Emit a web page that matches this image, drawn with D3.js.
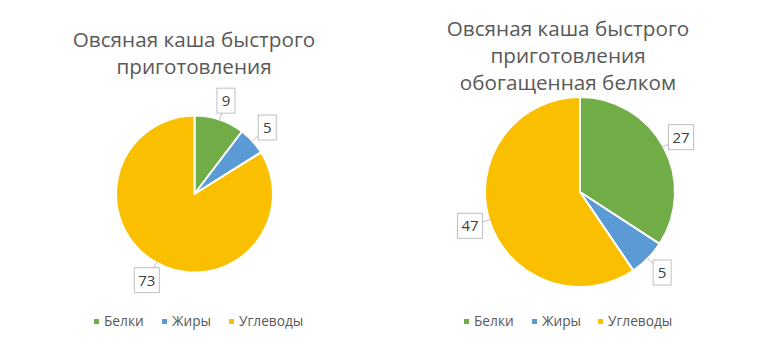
<!DOCTYPE html>
<html><head><meta charset="utf-8">
<script src="https://cdn.jsdelivr.net/npm/d3@7/dist/d3.min.js"></script>
<style>body{margin:0;background:#fff}svg{display:block}text{font-family:"Open Sans",sans-serif}</style>
</head><body><svg id="c" width="767" height="356"></svg>
<script>
const categories = ["Белки", "Жиры", "Углеводы"];
const colors = ["#70AD47", "#5B9BD5", "#FAC000"];
const values1 = [9, 5, 73];
const values2 = [27, 5, 47];
const title1 = ["Овсяная каша быстрого", "приготовления"];
const title2 = ["Овсяная каша быстрого", "приготовления", "обогащенная белком"];

const svg = d3.select("#c");
const txt = "#595959";

function drawChart(cfg) {
  const g = svg.append("g");
  g.append("text").attr("text-anchor", "middle").attr("fill", txt)
    .attr("font-size", cfg.titleSize)
    .selectAll("tspan").data(cfg.title).join("tspan")
    .attr("x", cfg.titleX).attr("y", (d, i) => cfg.titleY + i * cfg.titleGap).text(d => d);

  const pie = d3.pie().sort(null).value(d => d)(cfg.values);
  const arc = d3.arc().innerRadius(0).outerRadius(cfg.r);
  const pg = g.append("g").attr("transform", `translate(${cfg.cx},${cfg.cy})`);
  pg.selectAll("path").data(pie).join("path")
    .attr("d", arc).attr("fill", (d, i) => colors[i])
    .attr("stroke", "#fff").attr("stroke-width", 2).attr("stroke-linejoin", "round");

  const lr = cfg.r + cfg.labelOff;
  pie.forEach((d, i) => {
    const a = (d.startAngle + d.endAngle) / 2;
    const lx = Math.sin(a) * lr, ly = -Math.cos(a) * lr;
    const ax = Math.sin(a) * (cfg.r - 2), ay = -Math.cos(a) * (cfg.r - 2);
    const s = String(d.data);
    const w = s.length === 1 ? 18 : 25, h = 25;
    pg.append("line").attr("x1", ax).attr("y1", ay).attr("x2", lx).attr("y2", ly)
      .attr("stroke", "#bfbfbf").attr("stroke-width", 1);
    pg.append("rect").attr("x", lx - w / 2).attr("y", ly - h / 2).attr("width", w).attr("height", h)
      .attr("fill", "#fff").attr("stroke", "#bfbfbf").attr("stroke-width", 1);
    pg.append("text").attr("x", lx).attr("y", ly + 5.5).attr("text-anchor", "middle")
      .attr("font-size", 15).attr("fill", "#404040").text(s);
  });

  const lg = g.append("g");
  categories.forEach((c, i) => {
    const x = cfg.legX[i];
    lg.append("rect").attr("x", x).attr("y", cfg.legY - 7).attr("width", 5).attr("height", 5).attr("fill", colors[i]);
    lg.append("text").attr("x", x + 10).attr("y", cfg.legY).attr("font-size", 13.7).attr("fill", txt).text(c);
  });
}

drawChart({values: values1, title: title1, titleX: 194, titleY: 47, titleGap: 26.5, titleSize: 20.7,
  cx: 194.5, cy: 194, r: 78.5, labelOff: 20, legX: [94, 162, 229], legY: 326});
drawChart({values: values2, title: title2, titleX: 568, titleY: 35.5, titleGap: 27, titleSize: 20.7,
  cx: 580, cy: 192, r: 95, labelOff: 20, legX: [464, 532, 598], legY: 326});
</script></body></html>
